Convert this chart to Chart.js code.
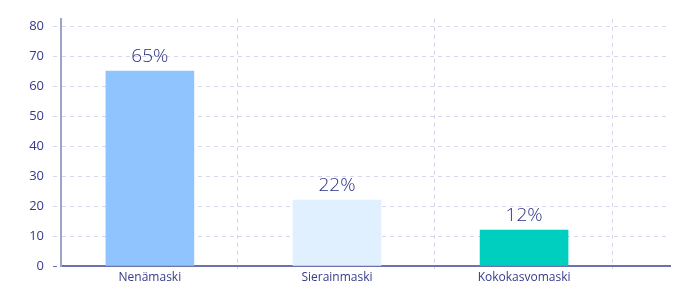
<!DOCTYPE html>
<html lang="fi">
<head>
    <meta charset="UTF-8">
    <title>Maskityypit</title>
    <script src="https://cdn.jsdelivr.net/npm/chart.js"></script>
    <style>
        html, body { margin: 0; padding: 0; background: #fff; }
        #wrap { width: 700px; height: 300px; }
    </style>
</head>
<body>
<div id="wrap"><canvas id="maskChart" width="700" height="300"></canvas></div>
<script>
    const categories = ['Nenämaski', 'Sierainmaski', 'Kokokasvomaski'];
    const shares = [65, 22, 12];
    const yTicks = [0, 10, 20, 30, 40, 50, 60, 70, 80];
    const xGridTicks = [0, 0.47, 1, 1.52, 2, 2.47];

    const textColor = '#363b8a';
    const gridColor = '#d6d6ec';
    const clear = 'rgba(0,0,0,0)';

    const barLabels = {
        id: 'barLabels',
        afterDatasetsDraw(chart) {
            const ctx = chart.ctx;
            const meta = chart.getDatasetMeta(0);
            ctx.save();
            ctx.font = '300 19px "Open Sans", sans-serif';
            ctx.fillStyle = '#2c3080';
            ctx.textAlign = 'center';
            ctx.textBaseline = 'alphabetic';
            meta.data.forEach((bar, i) => {
                ctx.fillText(shares[i] + '%', bar.x, bar.y - 9);
            });
            ctx.restore();
        }
    };

    new Chart(document.getElementById('maskChart'), {
        type: 'bar',
        data: {
            datasets: [{
                data: shares.map((v, i) => ({ x: i, y: v })),
                backgroundColor: ['#90c4fe', '#e0f0fe', '#00cfc0'],
                borderWidth: 0,
                barThickness: 88
            }]
        },
        options: {
            responsive: false,
            animation: false,
            layout: { padding: { top: 19, right: 30, left: 0, bottom: 0 } },
            plugins: {
                legend: { display: false },
                tooltip: { enabled: false }
            },
            scales: {
                x: {
                    type: 'linear',
                    offset: false,
                    min: -0.475,
                    max: 2.78,
                    afterBuildTicks: s => { s.ticks = xGridTicks.map(v => ({ value: v })); },
                    afterFit: s => { s.height = 34; },
                    ticks: {
                        autoSkip: false,
                        maxRotation: 0,
                        padding: 1,
                        color: textColor,
                        font: { family: '"Open Sans", sans-serif', size: 12 },
                        callback: v => Number.isInteger(v) ? categories[v] : ''
                    },
                    grid: {
                        offset: false,
                        color: c => (c.tick && Number.isInteger(c.tick.value)) ? clear : gridColor,
                        tickColor: c => (c.tick && Number.isInteger(c.tick.value)) ? clear : gridColor,
                        tickLength: 3
                    },
                    border: { color: '#6f72aa', width: 2, dash: [4, 4] }
                },
                y: {
                    min: 0,
                    max: 82.4,
                    afterBuildTicks: s => { s.ticks = yTicks.map(v => ({ value: v })); },
                    afterFit: s => { s.width = 61; },
                    ticks: {
                        padding: 9,
                        color: textColor,
                        font: { family: '"Open Sans", sans-serif', size: 13 }
                    },
                    grid: {
                        color: c => (c.tick && c.tick.value === 0) ? clear : gridColor,
                        tickColor: c => (c.tick && c.tick.value === 0) ? '#6f72aa' : gridColor,
                        tickBorderDash: [4, 4],
                        tickLength: 8
                    },
                    border: { color: '#a0a2c8', width: 2, dash: [4, 4] }
                }
            }
        },
        plugins: [barLabels]
    });
</script>
</body>
</html>
